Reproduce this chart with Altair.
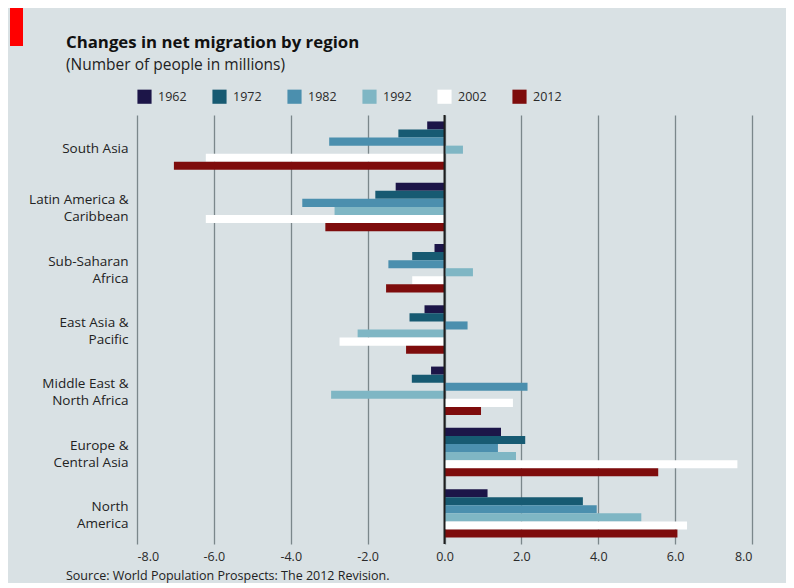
import altair as alt
import pandas as pd

regions = [
    "South Asia",
    "Latin America &\nCaribbean",
    "Sub-Saharan\nAfrica",
    "East Asia &\nPacific",
    "Middle East &\nNorth Africa",
    "Europe &\nCentral Asia",
    "North\nAmerica",
]
years = ["1962", "1972", "1982", "1992", "2002", "2012"]
colors = ["#1c1548", "#175a72", "#4b8fae", "#7fb6c4", "#ffffff", "#7e0c0c"]

v1962 = [-0.45, -1.27, -0.26, -0.52, -0.35, 1.47, 1.12]
v1972 = [-1.20, -1.80, -0.84, -0.91, -0.85, 2.10, 3.60]
v1982 = [-3.00, -3.70, -1.46, 0.60, 2.16, 1.39, 3.96]
v1992 = [0.48, -2.86, 0.74, -2.26, -2.95, 1.86, 5.12]
v2002 = [-6.21, -6.21, -0.84, -2.73, 1.78, 7.62, 6.31]
v2012 = [-7.04, -3.10, -1.52, -1.00, 0.95, 5.56, 6.06]

x_ticks = [-8, -6, -4, -2, 0, 2, 4, 6, 8]

title = "Changes in net migration by region"
subtitle = "(Number of people in millions)"
source = "Source: World Population Prospects: The 2012 Revision."

series = [v1962, v1972, v1982, v1992, v2002, v2012]
rows = []
for yr, vals in zip(years, series):
    for r, v in zip(regions, vals):
        rows.append({"region": r, "year": yr, "value": v})
df = pd.DataFrame(rows)

W, H = 615, 429
FONT = "Open Sans"

bars = alt.Chart(df).mark_bar().encode(
    x=alt.X(
        "value:Q",
        scale=alt.Scale(domain=[-8, 8], nice=False),
        axis=alt.Axis(
            values=x_ticks,
            labelExpr="replace(format(datum.value, '.1f'), '\u2212', '-')",
            grid=True,
            gridColor="#7b878b",
            gridWidth=1.3,
            domain=False,
            ticks=False,
            labelPadding=6,
            labelFontSize=12.5,
            labelColor="#2a2a2a",
            labelFont=FONT,
        ),
        title=None,
    ),
    y=alt.Y(
        "region:N",
        sort=regions,
        scale=alt.Scale(paddingInner=0.21, paddingOuter=0.105),
        axis=alt.Axis(
            labelExpr="split(datum.label, '\\n')",
            domain=False,
            ticks=False,
            grid=False,
            labelPadding=9,
            labelFontSize=13.5,
            labelLineHeight=17,
            labelColor="#222222",
            labelFont=FONT,
            labelLimit=200,
            labelOffset={"condition": {"test": "datum.value === 'South Asia'", "value": 3}, "value": -6.5},
        ),
        title=None,
    ),
    yOffset=alt.YOffset("year:N", sort=years, scale=alt.Scale(paddingInner=0, paddingOuter=0)),
    color=alt.Color(
        "year:N",
        sort=years,
        scale=alt.Scale(domain=years, range=colors),
        legend=alt.Legend(
            orient="none",
            legendX=0,
            legendY=-26,
            direction="horizontal",
            symbolType="square",
            symbolSize=200,
            symbolStrokeWidth=0,
            symbolOpacity=1,
            labelFontSize=12.5,
            labelFont=FONT,
            labelColor="#2a2a2a",
            labelOffset=6,
            columnPadding=25,
            padding=0,
        ),
        title=None,
    ),
)

zero = alt.Chart(pd.DataFrame({"z": [0]})).mark_rule(color="#1e1e1e", strokeWidth=2).encode(
    x=alt.X("z:Q")
)

tag = alt.Chart(pd.DataFrame({"t": [""]})).mark_rect(color="#ff0000").encode(
    x=alt.value(-127), x2=alt.value(-114), y=alt.value(-107), y2=alt.value(-69)
)

title_t = alt.Chart(pd.DataFrame({"t": [title]})).mark_text(
    align="left", baseline="alphabetic", fontSize=16.8, fontWeight="bold", font=FONT, color="#111111"
).encode(x=alt.value(-71), y=alt.value(-67), text="t:N")

sub_t = alt.Chart(pd.DataFrame({"t": [subtitle]})).mark_text(
    align="left", baseline="alphabetic", fontSize=15.5, font=FONT, color="#222222"
).encode(x=alt.value(-71), y=alt.value(-45), text="t:N")

src_t = alt.Chart(pd.DataFrame({"t": [source]})).mark_text(
    align="left", baseline="alphabetic", fontSize=12.5, font=FONT, color="#222222"
).encode(x=alt.value(-71), y=alt.value(H + 36), text="t:N")

chart = alt.layer(bars, zero, tag, title_t, sub_t, src_t).properties(
    width=W,
    height=H,
    autosize=alt.AutoSizeParams(type="none"),
    padding={"left": 129, "top": 107, "right": 34, "bottom": 39},
    background="#d9e1e4",
).configure_view(stroke=None)

chart.save("out.html", embed_options={"renderer": "svg", "actions": False})
